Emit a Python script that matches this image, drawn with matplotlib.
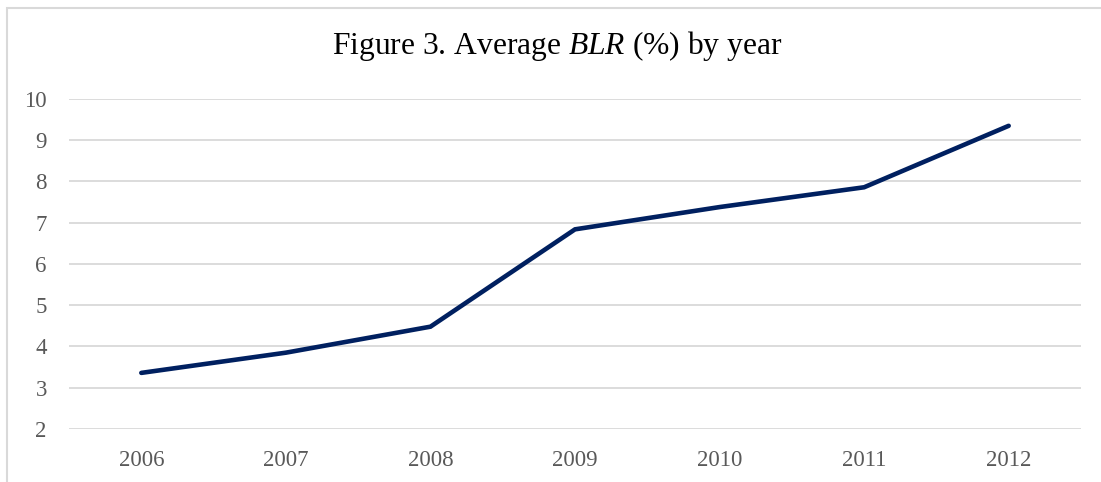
import matplotlib.pyplot as plt
from matplotlib.patches import Rectangle

years = ['2006', '2007', '2008', '2009', '2010', '2011', '2012']
blr = [3.36, 3.85, 4.48, 6.84, 7.38, 7.86, 9.35]
yticks = [2, 3, 4, 5, 6, 7, 8, 9, 10]

plt.rcParams['font.family'] = ['Liberation Serif', 'DejaVu Serif']
plt.rcParams['mathtext.fontset'] = 'custom'
plt.rcParams['mathtext.rm'] = 'Liberation Serif'
plt.rcParams['mathtext.it'] = 'Liberation Serif:italic'

fig = plt.figure(figsize=(11.01, 4.82), dpi=100)
ax = fig.add_axes([0.0627, 0.110, 0.9191, 0.6846])

x = list(range(len(years)))
ax.plot(x, blr, color='#002060', lw=3.3, solid_capstyle='round',
        solid_joinstyle='miter', zorder=3)

ax.set_xlim(-0.5, len(years) - 0.5)
ax.set_ylim(2, 10)
ax.set_yticks(yticks)
ax.set_xticks(x)
ax.set_xticklabels(years)
ax.grid(axis='y', color='#d9d9d9', lw=1.3)
ax.set_axisbelow(True)
for s in ax.spines.values():
    s.set_visible(False)
ax.tick_params(axis='both', length=0, labelsize=16.5, colors='#595959')
ax.tick_params(axis='y', pad=16)
ax.tick_params(axis='x', pad=15)

fig.text(0.506, 0.905, 'Figure 3. Average $\\it{BLR}$ (%) by year',
         ha='center', va='center', fontsize=22.7, color='black')

# outer chart frame
fig.patches.append(Rectangle((7 / 1101, -0.1), 1.2, 1 - 8 / 482 + 0.1,
                             transform=fig.transFigure, fill=False,
                             edgecolor='#d9d9d9', lw=1.5))

fig.savefig('out.png', dpi=100)
